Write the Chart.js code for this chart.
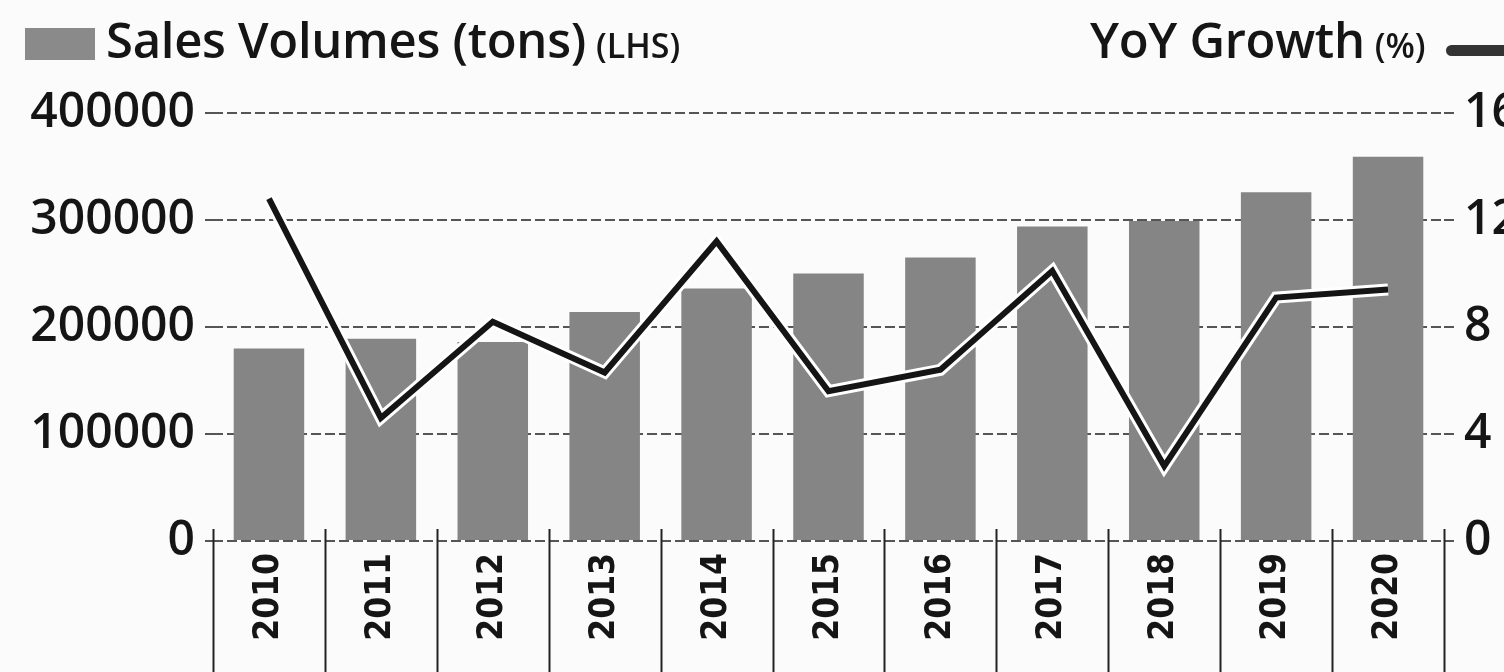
<!DOCTYPE html>
<html>
<head>
<meta charset="utf-8">
<script src="https://cdn.jsdelivr.net/npm/chart.js@4.4.0/dist/chart.umd.min.js"></script>
<style>
  html, body { margin: 0; padding: 0; overflow: hidden; background: #fbfbfb; }
  #wrap { position: relative; width: 1540px; height: 672px; }
  .lg { position: absolute; font-family: "Open Sans", sans-serif; font-weight: 600; color: #151515; white-space: nowrap; }
  .big { font-size: 49px; letter-spacing: -0.3px; }
  .small { font-size: 34px; margin-left: 10px; }
</style>
</head>
<body>
<div id="wrap">
  <canvas id="chart"></canvas>
  <!-- legend, drawn as html on top of the canvas -->
  <div style="position:absolute;left:25px;top:28px;width:70px;height:32px;background:#8a8a8a;"></div>
  <div class="lg" style="left:106px;top:6px;"><span class="big">Sales Volumes (tons)</span><span class="small">(LHS)</span></div>
  <div class="lg" style="left:1090px;top:6px;"><span class="big">YoY Growth</span><span class="small">(%)</span></div>
  <div style="position:absolute;left:1446px;top:45px;width:80px;height:11px;border-radius:6px;background:#333;"></div>
</div>
<script>
const years = ["2010", "2011", "2012", "2013", "2014", "2015", "2016", "2017", "2018", "2019", "2020"];
const salesTons = [180000, 189000, 186000, 214000, 236000, 250000, 265000, 294000, 299000, 326000, 359000];
const yoyGrowth = [12.8, 4.6, 8.2, 6.3, 11.2, 5.6, 6.4, 10.1, 2.8, 9.1, 9.4];
const leftTicks = [0, 100000, 200000, 300000, 400000];
const rightTicks = [0, 4, 8, 12, 16];

const ink = "#151515";

// vertical separators between years, below the axis
const separators = {
  id: "separators",
  afterDraw(chart) {
    const x = chart.scales.x;
    const ctx = chart.ctx;
    const step = x.getPixelForValue(1) - x.getPixelForValue(0);
    ctx.save();
    ctx.strokeStyle = "#222";
    ctx.lineWidth = 2;
    for (let i = 0; i <= years.length; i++) {
      const px = Math.round(x.getPixelForValue(i) - step / 2) + 0.5;
      ctx.beginPath();
      ctx.moveTo(px, chart.chartArea.bottom - 12);
      ctx.lineTo(px, chart.height);
      ctx.stroke();
    }
    ctx.restore();
  },
};

new Chart(document.getElementById("chart"), {
  type: "bar",
  data: {
    labels: years,
    datasets: [
      {
        type: "line",
        data: yoyGrowth,
        yAxisID: "y1",
        borderColor: ink,
        borderWidth: 6,
        pointRadius: 0,
        tension: 0,
        borderJoinStyle: "miter",
        order: 0,
      },
      {
        type: "line",
        data: yoyGrowth,
        yAxisID: "y1",
        borderColor: "#ffffff",
        borderWidth: 12,
        pointRadius: 0,
        tension: 0,
        borderJoinStyle: "miter",
        order: 1,
      },
      {
        data: salesTons,
        yAxisID: "y",
        backgroundColor: "#858585",
        barPercentage: 0.63,
        categoryPercentage: 1,
        order: 2,
      },
    ],
  },
  options: {
    responsive: true,
    maintainAspectRatio: false,
    animation: false,
    layout: { padding: { top: 113, left: 0, right: 0, bottom: 0 } },
    plugins: { legend: { display: false }, tooltip: { enabled: false } },
    scales: {
      x: {
        offset: true,
        grid: { display: false, drawTicks: false },
        border: { display: false },
        ticks: {
          minRotation: 90,
          maxRotation: 90,
          padding: 12,
          color: ink,
          font: { family: "'Liberation Sans Narrow', 'DejaVu Sans Condensed', sans-serif", size: 35, weight: "bold" },
        },
        afterFit(scale) { scale.height = 131; },
      },
      y: {
        position: "left",
        min: 0,
        max: 400000,
        afterBuildTicks(scale) { scale.ticks = leftTicks.map((v) => ({ value: v })); },
        grid: { color: "#555", lineWidth: 2, tickLength: 8 },
        border: { display: false, dash: [10, 4] },
        ticks: {
          padding: 10,
          color: ink,
          font: { family: "'Open Sans', sans-serif", size: 48, weight: "600" },
          callback: (v) => String(v),
        },
        afterFit(scale) { scale.width = 213; },
      },
      y1: {
        position: "right",
        min: 0,
        max: 16,
        afterBuildTicks(scale) { scale.ticks = rightTicks.map((v) => ({ value: v })); },
        grid: { drawOnChartArea: false, color: "#555", lineWidth: 2, tickLength: 10 },
        border: { display: false },
        ticks: {
          padding: 10,
          color: ink,
          font: { family: "'Open Sans', sans-serif", size: 48, weight: "600" },
          callback: (v) => String(v),
        },
        afterFit(scale) { scale.width = 96; },
      },
    },
  },
  plugins: [separators],
});
</script>
</body>
</html>
